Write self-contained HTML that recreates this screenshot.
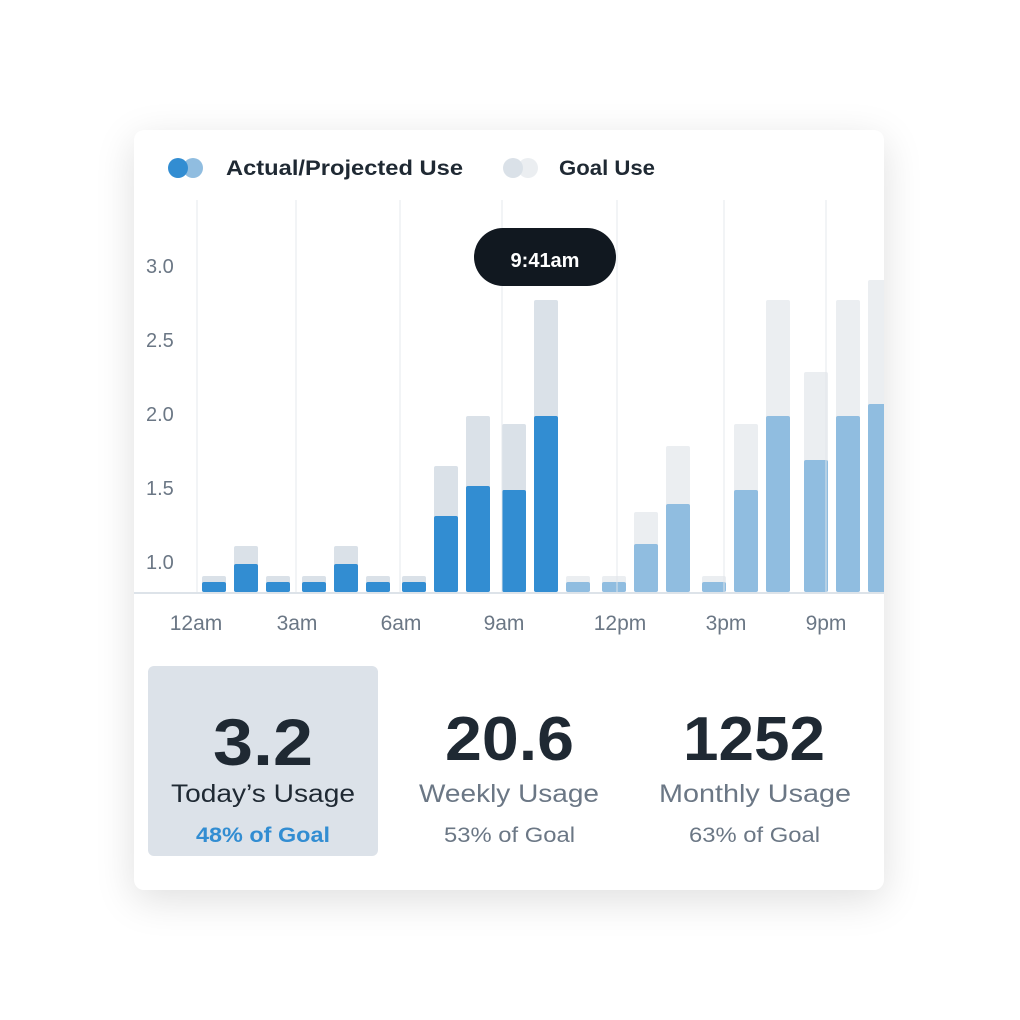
<!DOCTYPE html>
<html><head><meta charset="utf-8"><style>
html,body{margin:0;padding:0;background:#fff;}
body{width:1020px;height:1020px;position:relative;overflow:hidden;font-family:"Liberation Sans",sans-serif;}
.card{position:absolute;left:134px;top:130px;width:750px;height:760px;background:#fff;border-radius:10px;box-shadow:0 10px 40px rgba(0,0,0,0.13);}
svg{position:absolute;left:0;top:0;}
</style></head><body>
<div class="card"></div>
<svg width="1020" height="1020" viewBox="0 0 1020 1020" font-family="Liberation Sans, sans-serif">
<defs><clipPath id="c"><rect x="134" y="130" width="750" height="760" rx="10"/></clipPath></defs>
<circle cx="193" cy="168" r="10" fill="#90bde0"/>
<circle cx="178" cy="168" r="10" fill="#328dd2"/>
<text x="226" y="175" font-size="21" font-weight="bold" fill="#1f2933" textLength="237" lengthAdjust="spacingAndGlyphs">Actual/Projected Use</text>
<circle cx="528" cy="168" r="10" fill="#ebeef1"/>
<circle cx="513" cy="168" r="10" fill="#dae1e8"/>
<text x="559" y="175" font-size="21" font-weight="bold" fill="#1f2933" textLength="96" lengthAdjust="spacingAndGlyphs">Goal Use</text>
<g fill="#6b7785" font-size="20">
<text x="146" y="273">3.0</text><text x="146" y="347">2.5</text><text x="146" y="421">2.0</text><text x="146" y="495">1.5</text><text x="146" y="569">1.0</text>
</g>
<g clip-path="url(#c)">
<g id="bars"></g>
<g stroke="#e3e7ec" stroke-width="1.5" opacity="0.6">
<line x1="197" y1="200" x2="197" y2="592"/><line x1="296" y1="200" x2="296" y2="592"/><line x1="400" y1="200" x2="400" y2="592"/><line x1="502" y1="200" x2="502" y2="592"/><line x1="617" y1="200" x2="617" y2="592"/><line x1="724" y1="200" x2="724" y2="592"/><line x1="826" y1="200" x2="826" y2="592"/>
</g>
<rect x="134" y="592" width="750" height="2" fill="#dde3e9"/>
</g>
<rect x="474" y="228" width="142" height="58" rx="29" fill="#111820"/>
<text x="545" y="267" font-size="20" font-weight="bold" fill="#fff" text-anchor="middle">9:41am</text>
<g fill="#6b7785" font-size="21" text-anchor="middle">
<text x="196" y="630">12am</text><text x="297" y="630">3am</text><text x="401" y="630">6am</text><text x="504" y="630">9am</text><text x="620" y="630">12pm</text><text x="726" y="630">3pm</text><text x="826" y="630">9pm</text>
</g>
<rect x="148" y="666" width="230" height="190" rx="6" fill="#dce2e9"/>
<g>
<text x="213" y="765" font-size="66" font-weight="bold" fill="#1f2933" textLength="100" lengthAdjust="spacingAndGlyphs">3.2</text>
<text x="171" y="802" font-size="25" fill="#1f2933" textLength="184" lengthAdjust="spacingAndGlyphs">Today’s Usage</text>
<text x="196" y="842" font-size="21" font-weight="bold" fill="#328dd2" textLength="134" lengthAdjust="spacingAndGlyphs">48% of Goal</text>
<text x="445" y="760" font-size="62" font-weight="bold" fill="#1f2933" textLength="129" lengthAdjust="spacingAndGlyphs">20.6</text>
<text x="419" y="802" font-size="25" fill="#6b7785" textLength="180" lengthAdjust="spacingAndGlyphs">Weekly Usage</text>
<text x="444" y="842" font-size="21" fill="#6b7785" textLength="131" lengthAdjust="spacingAndGlyphs">53% of Goal</text>
<text x="683" y="760" font-size="62" font-weight="bold" fill="#1f2933" textLength="142" lengthAdjust="spacingAndGlyphs">1252</text>
<text x="659" y="802" font-size="25" fill="#6b7785" textLength="192" lengthAdjust="spacingAndGlyphs">Monthly Usage</text>
<text x="689" y="842" font-size="21" fill="#6b7785" textLength="131" lengthAdjust="spacingAndGlyphs">63% of Goal</text>
</g>
</svg>
<script>
var d=[[202,576,582],[234,546,564],[266,576,582],[302,576,582],[334,546,564],[366,576,582],[402,576,582],[434,466,516],[466,416,486],[502,424,490],[534,300,416],[566,576,582],[602,576,582],[634,512,544],[666,446,504],[702,576,582],[734,424,490],[766,300,416],[804,372,460],[836,300,416],[868,280,404]];
var s="";
d.forEach(function(b,i){var dark=i<11;
s+='<rect x="'+b[0]+'" y="'+b[1]+'" width="24" height="'+(592-b[1])+'" rx="2" fill="'+(dark?'#dae1e8':'#ebeef1')+'"/>';
s+='<rect x="'+b[0]+'" y="'+b[2]+'" width="24" height="'+(592-b[2])+'" rx="2" fill="'+(dark?'#328dd2':'#90bde0')+'"/>';});
document.getElementById('bars').innerHTML=s;
</script>
</body></html>
